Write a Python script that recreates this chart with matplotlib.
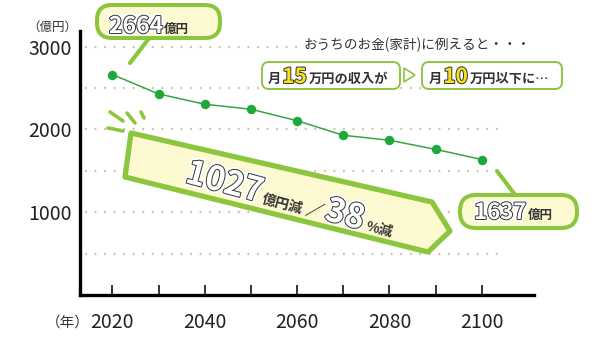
import numpy as np
import matplotlib
matplotlib.use("Agg")
import matplotlib.pyplot as plt
import matplotlib.patheffects as pe
from matplotlib.patches import FancyBboxPatch, Polygon
from matplotlib.transforms import Affine2D

plt.rcParams['font.family'] = ['Noto Sans CJK JP', 'DejaVu Sans']

years = [2020, 2030, 2040, 2050, 2060, 2070, 2080, 2090, 2100]
values = [2664, 2430, 2305, 2245, 2106, 1930, 1870, 1760, 1637]
label_years = [2020, 2040, 2060, 2080, 2100]
grid_values = [500, 1000, 1500, 2000, 2500, 3000]
y_labels = [1000, 2000, 3000]

GREEN = '#8cc63f'
CREAM = '#fdf9d0'
DARK = '#333333'

fig = plt.figure(figsize=(6, 3.4), dpi=100)
ax = fig.add_axes([80 / 600, 45 / 340, 454 / 600, 264 / 340])
ax.set_xlim(2013, 2111.3)
ax.set_ylim(0, 3190)

# dotted grid
ax.hlines(grid_values, 2014, 2105, colors='#c9c0a6', lw=1.6,
          linestyles=(0, (0.8, 3.5)), zorder=1)

ax.plot(years, values, color='#3aa345', lw=1.1, zorder=3)
ax.plot(years, values, 'o', ms=6.8, color='#1ea83c', mec='none', zorder=4)

for s in ['top', 'right']:
    ax.spines[s].set_visible(False)
for s in ['left', 'bottom']:
    ax.spines[s].set_linewidth(2.4)
    ax.spines[s].set_color('black')

ax.set_xticks(years)
ax.set_xticklabels([str(y) if y in label_years else '' for y in years])
ax.tick_params(axis='x', direction='in', length=7, width=1.1,
               labelsize=14, pad=12, labelcolor='#222222')
ax.set_yticks(y_labels)
ax.set_yticklabels([str(v) for v in y_labels])
ax.tick_params(axis='y', length=0, labelsize=14, pad=6, labelcolor='#222222')

# pixel coordinates, y downward
pix = Affine2D().scale(0.01, -0.01).translate(0, 3.4) + fig.dpi_scale_trans
renderer = fig.canvas.get_renderer()

fig.text(52, 27, '（億円）', transform=pix, fontsize=9, color=DARK,
         ha='center', va='center')
fig.text(68, 323, '（年）', transform=pix, fontsize=10.5, color=DARK,
         ha='center', va='center')

outline = [pe.Stroke(linewidth=4, foreground='white'),
           pe.Stroke(linewidth=1.4, foreground=DARK), pe.Normal()]


def run_text(x, y, parts, angle=0):
    a = np.deg2rad(angle)
    for s, size, color, outlined, gap in parts:
        kw = dict(fontsize=size, color=color, fontweight='bold')
        t = fig.text(x, y, s, transform=pix, ha='left', va='baseline',
                     rotation=angle, rotation_mode='anchor', zorder=5, **kw)
        if outlined:
            t.set_path_effects(outline)
        tmp = fig.text(0, 0, s, **kw)
        w = tmp.get_window_extent(renderer).width + gap
        tmp.remove()
        x += w * np.cos(a)
        y -= w * np.sin(a)


def box(x, y, w, h, r, lw, fc, ec=GREEN):
    fig.patches.append(FancyBboxPatch((x, y), w, h,
                                      boxstyle=f'round,pad=0,rounding_size={r}',
                                      transform=pix, fc=fc, ec=ec, lw=lw,
                                      figure=fig, zorder=2))


def stroke(pts, lw=3):
    xs, ys = zip(*pts)
    fig.lines.append(plt.Line2D(xs, ys, transform=pix, color=GREEN, lw=lw,
                                solid_capstyle='round', figure=fig, zorder=2))


# 2664 callout
stroke([(150, 37), (130, 63)], lw=3)
box(97, 5, 123, 33, 15, 2.9, CREAM)
run_text(109, 33, [('2664', 16.5, 'white', True, 1),
                   ('億円', 9, DARK, False, 0)])

# 1637 callout
stroke([(497, 171), (516, 196)], lw=3)
box(460, 195, 117, 33, 16, 2.9, CREAM)
run_text(474, 219, [('1637', 16, 'white', True, 1),
                    ('億円', 9, DARK, False, 0)])

# household comparison
fig.text(304, 45, 'おうちのお金(家計)に例えると・・・', transform=pix,
         fontsize=9.8, color=DARK, ha='left', va='center', zorder=5,
         bbox=dict(fc='white', ec='none', pad=1))
box(262, 62, 138, 27, 7, 1.4, 'white')
box(422, 62, 140, 27, 7, 1.4, 'white')
fig.patches.append(Polygon([(404, 68), (404, 82), (415, 75)], closed=True,
                           transform=pix, fc='white', ec=GREEN, lw=1.2,
                           figure=fig, zorder=2))
run_text(268, 83, [('月', 9.5, DARK, False, 1),
                   ('15', 15, '#f5e21a', True, 2),
                   ('万円の収入が', 9.5, DARK, False, 0)])
run_text(429, 83, [('月', 9.5, DARK, False, 1),
                   ('10', 15, '#f5e21a', True, 2),
                   ('万円以下に…', 9.5, DARK, False, 0)])

# reduction banner
fig.patches.append(Polygon([(131, 133), (432, 202), (450, 231), (428, 252),
                            (125, 177)], closed=True, transform=pix,
                           fc=CREAM, ec=GREEN, lw=3.8, joinstyle='round',
                           figure=fig, zorder=2))
for seg in [[(110, 112), (123, 121)], [(127, 113), (135, 123)],
            [(141, 112), (144, 118)], [(108, 128), (123, 131)]]:
    stroke(seg, lw=2.6)
run_text(184, 182, [('1027', 24, 'white', True, 1),
                    ('億円減', 10, DARK, False, 3),
                    ('／', 13, DARK, False, 2),
                    ('38', 24, 'white', True, 3),
                    ('%減', 10, DARK, False, 0)], angle=-15)

fig.savefig('out.png', dpi=100)
